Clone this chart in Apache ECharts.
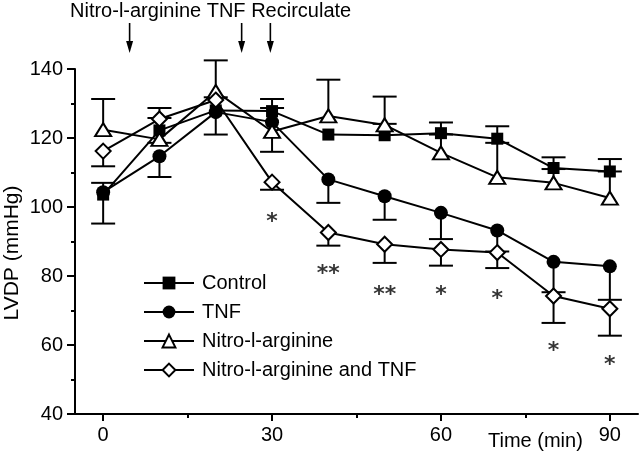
<!DOCTYPE html>
<html>
<head>
<meta charset="utf-8">
<script src="https://cdn.jsdelivr.net/npm/echarts@6/dist/echarts.min.js"></script>
<style>html,body{margin:0;padding:0;background:#fff}#c{width:640px;height:454px}</style>
</head>
<body>
<div id="c"></div>
<script>
// ---- data ----
const times = [0, 10, 20, 30, 40, 50, 60, 70, 80, 90];
const control = [103.6, 122.2, 128, 127.8, 121, 120.8, 121.4, 119.8, 111.3, 110.3];
const controlErr = [95.2, 125.8, 131.8, 131.3, null, 124.1, 124.5, 123.4, 114.4, 113.9];
const tnf = [104.3, 114.7, 127.5, 124.6, 108, 103.1, 98.3, 93.2, 84.1, 82.8];
const tnfErr = [107, 108.7, 121, 128.7, 101.2, 96.3, 90.7, 87.1, 75.3, 73.1];
const nitro = [122.4, 119.6, 133.5, 121.9, 126.4, 123.8, 115.7, 108.6, 107, 102.6];
const nitroErr = [131.3, 118.6, 142.5, 116, 136.9, 132, 121, 118.6, 111, 110.3];
const nitroTnf = [116.2, 125.5, 131, 107.2, 92.6, 89.2, 87.7, 86.8, 74.2, 70.5];
const nitroTnfErr = [111.8, 128.7, null, 105, 88.8, 83.8, 83, 82.3, 66.4, 62.7];
const starTimes = [30, 40, 50, 60, 70, 80, 90];
const starValues = [97, 82, 76, 76, 74.6, 59.7, 55.5];
const starText = ['*', '**', '**', '*', '*', '*', '*'];
const arrowTimes = [4.7, 24.6, 29.7];
const seriesNames = ['Control', 'TNF', 'Nitro-l-arginine', 'Nitro-l-arginine and TNF'];
const xTicks = [0, 30, 60, 90];
const xMinorTicks = [15, 45, 75];
const annotation = 'Nitro-l-arginine TNF Recirculate';

const FONT = 'Liberation Sans';
const pairs = (ys) => times.map((t, i) => [t, ys[i]]);
const errData = (ys, es) => times.map((t, i) => es[i] == null ? null : [t, ys[i], es[i]]).filter(d => d);

function errRender(params, api) {
  const p0 = api.coord([api.value(0), api.value(1)]);
  const p1 = api.coord([api.value(0), api.value(2)]);
  const st = { stroke: '#000', lineWidth: 2 };
  return { type: 'group', children: [
    { type: 'line', shape: { x1: p0[0], y1: p0[1], x2: p1[0], y2: p1[1] }, style: st },
    { type: 'line', shape: { x1: p1[0] - 12, y1: p1[1], x2: p1[0] + 12, y2: p1[1] }, style: st }
  ]};
}
function arrowRender(params, api) {
  const p = api.coord([api.value(0), 140]);
  const x = p[0], yb = p[1] - 16, yt = p[1] - 46;
  return { type: 'group', children: [
    { type: 'line', shape: { x1: x, y1: yt, x2: x, y2: yb - 8 }, style: { stroke: '#000', lineWidth: 1.6 } },
    { type: 'polygon', shape: { points: [[x - 3.5, yb - 12], [x + 3.5, yb - 12], [x, yb]] }, style: { fill: '#000' } }
  ]};
}
function errSeries(ys, es) {
  return { type: 'custom', renderItem: errRender, data: errData(ys, es), z: 1, silent: true, xAxisIndex: 0 };
}
const lineStyle = { color: '#000', width: 2 };

const chart = echarts.init(document.getElementById('c'), null, { renderer: 'canvas' });
chart.setOption({
  animation: false,
  backgroundColor: '#fff',
  textStyle: { fontFamily: FONT, color: '#000' },
  grid: { left: 75, right: 2, top: 69, bottom: 40, containLabel: false },
  xAxis: [{
    type: 'value', min: -5, max: 95, position: 'bottom',
    axisLine: { show: true, onZero: false, lineStyle: { color: '#000', width: 2 } },
    axisTick: { show: true, customValues: xTicks, length: 7, lineStyle: { color: '#000', width: 2 } },
    axisLabel: { customValues: xTicks, margin: 11, fontSize: 20, color: '#000', fontFamily: FONT },
    splitLine: { show: false }
  }, {
    type: 'value', min: -5, max: 95, position: 'bottom', offset: 0,
    axisLine: { show: false, onZero: false },
    axisTick: { show: true, customValues: xMinorTicks, length: 4, lineStyle: { color: '#000', width: 2 } },
    axisLabel: { show: false },
    splitLine: { show: false }
  }],
  yAxis: {
    type: 'value', min: 40, max: 140, interval: 20, position: 'left',
    axisLine: { show: true, onZero: false, lineStyle: { color: '#000', width: 2 } },
    axisTick: { show: true, length: 8, lineStyle: { color: '#000', width: 2 } },
    minorTick: { show: true, splitNumber: 2, length: 4, lineStyle: { color: '#000', width: 2 } },
    axisLabel: { margin: 12, fontSize: 20, color: '#000', fontFamily: FONT },
    splitLine: { show: false }
  },
  legend: {
    orient: 'vertical', left: 143, top: 273, padding: 0,
    itemWidth: 50, itemHeight: 16, itemGap: 9,
    textStyle: { fontSize: 20, color: '#000', fontFamily: FONT, padding: [0, 0, 0, 3] },
    data: seriesNames
  },
  graphic: [
    { type: 'text', left: 70, top: 1, style: { text: annotation, fontSize: 20, fontFamily: FONT, fill: '#000' } },
    { type: 'text', left: 488, top: 431, style: { text: 'Time (min)', fontSize: 20, fontFamily: FONT, fill: '#000' } },
    { type: 'text', x: 12, y: 253, rotation: Math.PI / 2,
      style: { text: 'LVDP (mmHg)', fontSize: 21, fontFamily: FONT, fill: '#000', align: 'center', verticalAlign: 'middle' } }
  ],
  series: [
    errSeries(control, controlErr),
    errSeries(tnf, tnfErr),
    errSeries(nitro, nitroErr),
    errSeries(nitroTnf, nitroTnfErr),
    { name: seriesNames[0], type: 'line', data: pairs(control), z: 3, symbol: 'rect', symbolSize: 12,
      lineStyle, itemStyle: { color: '#000', borderColor: '#000', borderWidth: 0 } },
    { name: seriesNames[1], type: 'line', data: pairs(tnf), z: 3, symbol: 'circle', symbolSize: 14,
      lineStyle, itemStyle: { color: '#000', borderColor: '#000', borderWidth: 0 } },
    { name: seriesNames[2], type: 'line', data: pairs(nitro), z: 3, symbol: 'triangle', symbolSize: [16, 13],
      lineStyle, itemStyle: { color: '#fff', borderColor: '#000', borderWidth: 2 } },
    { name: seriesNames[3], type: 'line', data: pairs(nitroTnf), z: 3, symbol: 'diamond', symbolSize: [15, 15],
      lineStyle, itemStyle: { color: '#fff', borderColor: '#000', borderWidth: 2 } },
    { type: 'scatter', silent: true, z: 4, symbolSize: 1, itemStyle: { color: 'rgba(0,0,0,0)' },
      data: starTimes.map((t, i) => ({ value: [t, starValues[i]], name: starText[i] })),
      label: { show: true, position: 'inside', formatter: p => p.name, fontSize: 22, fontWeight: 'bold',
        color: '#000', fontFamily: 'DejaVu Sans', offset: [0, 5] } },
    { type: 'custom', renderItem: arrowRender, clip: false, silent: true, z: 5,
      data: arrowTimes.map(t => [t, 140]) }
  ]
});
</script>
</body>
</html>
